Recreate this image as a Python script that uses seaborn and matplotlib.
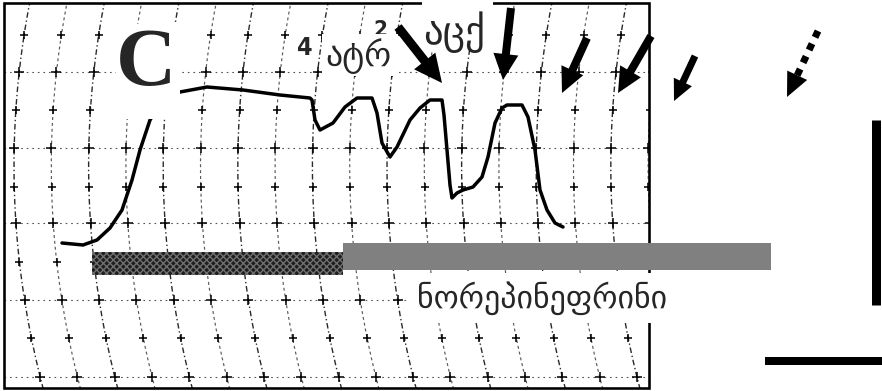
import numpy as np
import matplotlib
matplotlib.use("Agg")
import matplotlib.pyplot as plt
from matplotlib.patches import Rectangle, Polygon
import seaborn as sns

# Isometric contraction trace, in chart-paper units (x along the paper, y downward)
trace_x = [62, 83, 97, 110, 122, 132, 140, 150, 160, 170, 180, 207, 243, 280, 310,
           312, 315, 320, 333, 345, 357, 372, 377, 382, 390, 397, 410, 420, 430, 442,
           444, 447, 450, 452, 457, 463, 473, 482, 488, 495, 502, 507, 522, 528, 535,
           540, 547, 555, 563]
trace_y = [243, 245, 240, 228, 210, 180, 150, 120, 104, 96, 92, 87, 90, 95, 98,
           100, 120, 130, 123, 107, 98, 98, 113, 143, 157, 147, 120, 108, 100, 100,
           115, 150, 185, 198, 193, 190, 187, 177, 157, 123, 108, 105, 105, 117, 150,
           190, 210, 223, 227]

# Drug application periods (start / end along the paper)
bar_start = [92, 343]
bar_end = [343, 771]

# Agonist additions marked by arrows: tail and tip of each arrow
arrow_tail = [(398, 27), (511, 8), (587, 38), (651, 36), (695, 56), (818, 31)]
arrow_tip = [(442, 83), (503, 80), (562, 93), (618, 93), (674, 101), (787, 97)]

W, H = 882, 391
sns.set_theme(style="white")
plt.rcParams["font.family"] = ["DejaVu Sans"]

fig = plt.figure(figsize=(W / 100, H / 100), dpi=100)
ax = fig.add_axes([0, 0, 1, 1])
ax.set_xlim(0, W)
ax.set_ylim(H, 0)
ax.axis("off")
PT = 0.72  # points per pixel at 100 dpi

# chart-paper frame
fx0, fy0, fx1, fy1 = 4, 3, 649, 388
clip = Rectangle((fx0, fy0), fx1 - fx0, fy1 - fy0, transform=ax.transData)

# curved time lines of the recorder paper
yy = np.linspace(0, H, 300)
def arc_x(x0, y):
    return x0 + (np.asarray(y) - 166.0) ** 2 / 1700.0

arc_base = 14 + 37.3 * np.arange(19)
for i, x0 in enumerate(arc_base):
    strong = i % 2 == 0
    ln, = ax.plot(arc_x(x0, yy), yy, color="#2a2a2a" if strong else "#5a5a5a",
                  lw=1.0 if strong else 0.85, dashes=(4, 2, 1, 2) if strong else (2.5, 2.5),
                  zorder=1)
    ln.set_clip_path(clip)

major_h = [72, 148, 223, 300, 377]
minor_h = [35, 110, 187, 262, 338]
for y in major_h:
    ln, = ax.plot([fx0, fx1], [y, y], color="#555555", lw=0.8, dashes=(1.5, 3.5), zorder=1)
    ln.set_clip_path(clip)
for y, s in [(y, 60) for y in major_h] + [(y, 35) for y in minor_h]:
    px = arc_x(arc_base, y)
    sc = ax.scatter(px, np.full_like(px, y), marker="+", s=s, color="black", lw=1.1, zorder=1)
    sc.set_clip_path(clip)

ax.add_patch(Rectangle((fx0, fy0), fx1 - fx0, fy1 - fy0, fill=False, ec="black",
                       lw=2.6 * PT, zorder=2))

# tension trace
sns.lineplot(x=trace_x, y=trace_y, sort=False, estimator=None, color="black",
             lw=2.5, ax=ax, zorder=3)
ax.lines[-1].set_solid_joinstyle("round")
ax.lines[-1].set_solid_capstyle("round")

# drug bars
ax.barh(263.5, bar_end[0] - bar_start[0], left=bar_start[0], height=23,
        color="#1e1e1e", hatch="xxxxx", edgecolor="#707070", lw=0, zorder=5)
ax.barh(256.5, bar_end[1] - bar_start[1], left=bar_start[1], height=27,
        color="#808080", lw=0, zorder=5)

# white label panels
for (x, y, w, h) in [(116, 24, 64, 95), (322, 34, 76, 42), (422, 0, 71, 50), (410, 273, 262, 50)]:
    ax.add_patch(Rectangle((x, y), w, h, color="white", lw=0, zorder=4))

# printed channel numbers on the paper
ax.text(305, 55, "4", fontsize=18, fontweight="bold", ha="center", va="baseline",
        family="DejaVu Sans", fontstretch="condensed", zorder=3.5)
ax.text(380, 40, "2", fontsize=16, fontweight="bold", ha="center", va="bottom",
        family="DejaVu Sans", fontstretch="condensed", zorder=3.5)

fig.canvas.draw()
renderer = fig.canvas.get_renderer()

def fit_text(s, x, base, width, **kw):
    t = ax.text(x, base, s, ha="left", va="baseline", fontsize=20, zorder=6, **kw)
    bb = t.get_window_extent(renderer)
    t.set_fontsize(20 * width / bb.width)
    return t

ax.text(146, 66, "C", fontsize=60, fontweight="bold", family="Liberation Serif",
        ha="center", va="center", zorder=6)
fit_text("ატრ", 325, 66, 66)
fit_text("აცქ", 423, 44, 62)
fit_text("ნორეპინეფრინი", 417, 308, 250)

# arrows
def draw_arrow(tail, tip, shaft=8, hl=26, hw=25, dotted=False):
    tail = np.array(tail, float)
    tip = np.array(tip, float)
    d = tip - tail
    d /= np.hypot(*d)
    n = np.array([-d[1], d[0]])
    base = tip - d * hl
    kw = dict(color="black", lw=shaft * PT, solid_capstyle="butt", zorder=7)
    if dotted:
        kw["dashes"] = (1, 1)
        kw["dash_capstyle"] = "butt"
    end = base + d * 2
    ax.plot([tail[0], end[0]], [tail[1], end[1]], **kw)
    ax.add_patch(Polygon([tip, base + n * hw / 2, base - n * hw / 2], closed=True,
                         color="black", lw=0, zorder=7))

sizes = [(9, 28, 27), (8, 26, 25), (8, 25, 24), (8, 25, 24), (7, 21, 20), (7, 24, 22)]
for i, (t0, t1) in enumerate(zip(arrow_tail, arrow_tip)):
    s, hl, hw = sizes[i]
    draw_arrow(t0, t1, s, hl, hw, dotted=(i == len(arrow_tail) - 1))

# calibration bars
ax.plot([875.5, 875.5], [120, 305], color="black", lw=9 * PT, solid_capstyle="butt")
ax.plot([765, 882], [361, 361], color="black", lw=8 * PT, solid_capstyle="butt")

fig.savefig("out.png", dpi=100, facecolor="white")
